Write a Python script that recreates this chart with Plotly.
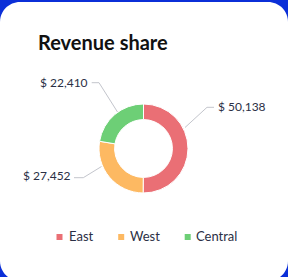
import plotly.graph_objects as go

# ---- data ----
regions = ["East", "West", "Central"]
revenue = [50138, 27452, 22410]
colors = ["#ea6f75", "#fdb962", "#6dcf76"]
title_text = "Revenue share"

# ---- layout helpers (figure pixel -> paper) ----
W, H = 288, 277
def px(x):
    return x / W
def py(y):
    return 1 - y / H

fig = go.Figure()
fig.add_trace(go.Pie(
    labels=regions,
    values=revenue,
    hole=0.65,
    sort=False,
    direction="clockwise",
    rotation=0,
    marker=dict(colors=colors, line=dict(color="white", width=1)),
    textinfo="none",
    showlegend=False,
    domain=dict(x=[px(99), px(188)], y=[py(193), py(104)]),
))

shapes = []
# card background (rounded rectangle)
x0, x1, y0, y1, r = 0, 288, 2, 281, 20
k = 0.5523 * r
path = (
    f"M {px(x0 + r)},{py(y0)} L {px(x1 - r)},{py(y0)} "
    f"C {px(x1 - r + k)},{py(y0)} {px(x1)},{py(y0 + r - k)} {px(x1)},{py(y0 + r)} "
    f"L {px(x1)},{py(y1 - r)} "
    f"C {px(x1)},{py(y1 - r + k)} {px(x1 - r + k)},{py(y1)} {px(x1 - r)},{py(y1)} "
    f"L {px(x0 + r)},{py(y1)} "
    f"C {px(x0 + r - k)},{py(y1)} {px(x0)},{py(y1 - r + k)} {px(x0)},{py(y1 - r)} "
    f"L {px(x0)},{py(y0 + r)} "
    f"C {px(x0)},{py(y0 + r - k)} {px(x0 + r - k)},{py(y0)} {px(x0 + r)},{py(y0)} Z"
)
shapes.append(dict(type="path", xref="paper", yref="paper", path=path,
                   fillcolor="white", line=dict(width=0), layer="below"))

# label placement (layout): text left x, text center y, leader polyline
label_layout = {
    "East":    dict(tx=217, ty=106.5, line=[(214, 107.3), (207, 107.3), (185, 127.5)]),
    "West":    dict(tx=22, ty=175.5, line=[(74, 177.7), (83.3, 177.7), (101.5, 166.5)]),
    "Central": dict(tx=39, ty=82, line=[(91.7, 82.7), (99, 82.7), (117.5, 112)]),
}

annotations = []
for name, val in zip(regions, revenue):
    lay = label_layout[name]
    pts = lay["line"]
    p = "M " + " L ".join(f"{px(a)},{py(b)}" for a, b in pts)
    shapes.append(dict(type="path", xref="paper", yref="paper", path=p,
                       line=dict(color="#c3c5cc", width=1)))
    annotations.append(dict(
        text=f"$ {val:,}", x=px(lay["tx"]), y=py(lay["ty"]),
        xref="paper", yref="paper", xanchor="left", yanchor="middle",
        showarrow=False, borderpad=0,
        font=dict(family="Lato", size=12, color="#2b2f45"),
    ))

# title
annotations.append(dict(
    text="<b>" + title_text + "</b>", x=px(37), y=py(42),
    xref="paper", yref="paper", xanchor="left", yanchor="middle",
    showarrow=False, borderpad=0,
    font=dict(family="Lato", size=20, color="#111111"),
))

# custom legend
legend_layout = [(59.5, 68), (121.2, 129), (187.7, 195)]
for (mx, tx), name, col in zip(legend_layout, regions, colors):
    shapes.append(dict(type="rect", xref="paper", yref="paper",
                       x0=px(mx - 3), x1=px(mx + 3), y0=py(240), y1=py(234),
                       fillcolor=col, line=dict(width=0)))
    annotations.append(dict(
        text=name, x=px(tx), y=py(235.5),
        xref="paper", yref="paper", xanchor="left", yanchor="middle",
        showarrow=False, borderpad=0,
        font=dict(family="Lato", size=13, color="#2b2f45"),
    ))

fig.update_layout(
    width=W, height=H,
    margin=dict(l=0, r=0, t=0, b=0),
    paper_bgcolor="#0b2fd8",
    plot_bgcolor="#0b2fd8",
    shapes=shapes,
    annotations=annotations,
    showlegend=False,
)

fig.write_html("out.html", config={"displayModeBar": False})
